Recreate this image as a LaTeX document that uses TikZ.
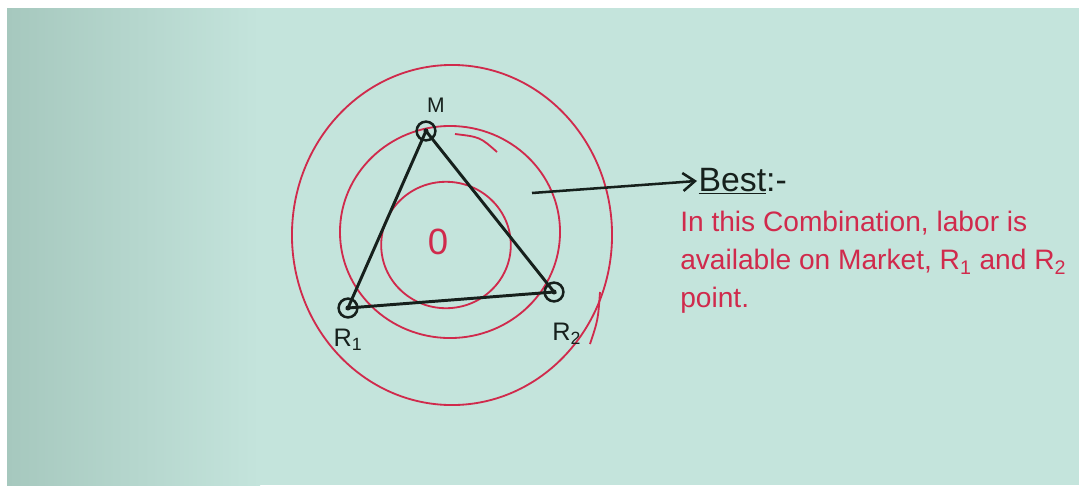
\documentclass[tikz,border=0pt]{standalone}
\usepackage{fontspec}
\setmainfont{Liberation Sans}
\usetikzlibrary{arrows.meta,positioning}
\definecolor{paper}{RGB}{196,228,220}
\definecolor{paperdark}{RGB}{166,200,190}
\definecolor{pen}{RGB}{208,42,76}
\definecolor{ink}{RGB}{22,32,28}

\begin{document}
\begin{tikzpicture}[x=0.025cm,y=-0.025cm,
  ring/.style={draw=pen,line width=1.3pt},
  edge/.style={draw=ink,line width=2.1pt},
  spot/.style={circle,draw=ink,line width=1.8pt,minimum size=0.47cm,inner sep=0pt},
  tag/.style={text=ink,inner sep=1pt,font=\fontsize{18}{20}\selectfont}]
% page
\useasboundingbox (0,0) rectangle (1079,489);
\fill[white] (0,0) rectangle (1079,489);
\fill[paper] (7,8) rectangle (1079,485);
\shade[left color=paperdark,right color=paper] (7,8) rectangle (260,485);
% rings round the centre
\draw[ring] (452,235) ellipse [x radius=4cm,y radius=4.25cm];
\draw[ring] (450,232) ellipse [x radius=2.75cm,y radius=2.65cm];
\draw[ring] (446,245) ellipse [x radius=1.62cm,y radius=1.58cm];
\draw[ring] (455,134) .. controls (480,137) .. (497,152);
\draw[ring] (600,292) .. controls (598,320) .. (590,344);
\node[text=pen,inner sep=0pt,font=\fontsize{26}{30}\selectfont] (zero) at (438,242) {0};
% the three points
\node[spot] (M) at (426,131) {};
\node[spot] (R1) at (348,308) {};
\node[spot] (R2) at (554,292) {};
\foreach \p in {M,R1,R2}
  \fill[ink] (\p) circle (1.8pt);
\draw[edge] (M.center) -- (R1.center) -- (R2.center) -- cycle;
\node[tag,font=\fontsize{15}{17}\selectfont,above=0.16cm of M,xshift=0.25cm] (mtag) {M};
\node[tag,below=0.22cm of R1] (r1tag) {R\textsubscript{1}};
\node[tag,below=0.48cm of R2,xshift=0.32cm] (r2tag) {R\textsubscript{2}};
% note
\node[text=ink,anchor=base west,inner sep=1pt,font=\fontsize{24}{28}\selectfont] (best) at (697,191) {\underline{Best}:-};
\coordinate (tail) at (532,193);
\draw[edge,line width=1.8pt,-{Straight Barb[length=3mm,width=4.5mm]}] (tail) -- (best.west);
\node[text=pen,align=left,anchor=north west,inner sep=0pt,font=\fontsize{20}{27}\selectfont] (note) at (680,211)
  {In this Combination, labor is\\available on Market, R\textsubscript{1} and R\textsubscript{2}\\point.};
\end{tikzpicture}
\end{document}
